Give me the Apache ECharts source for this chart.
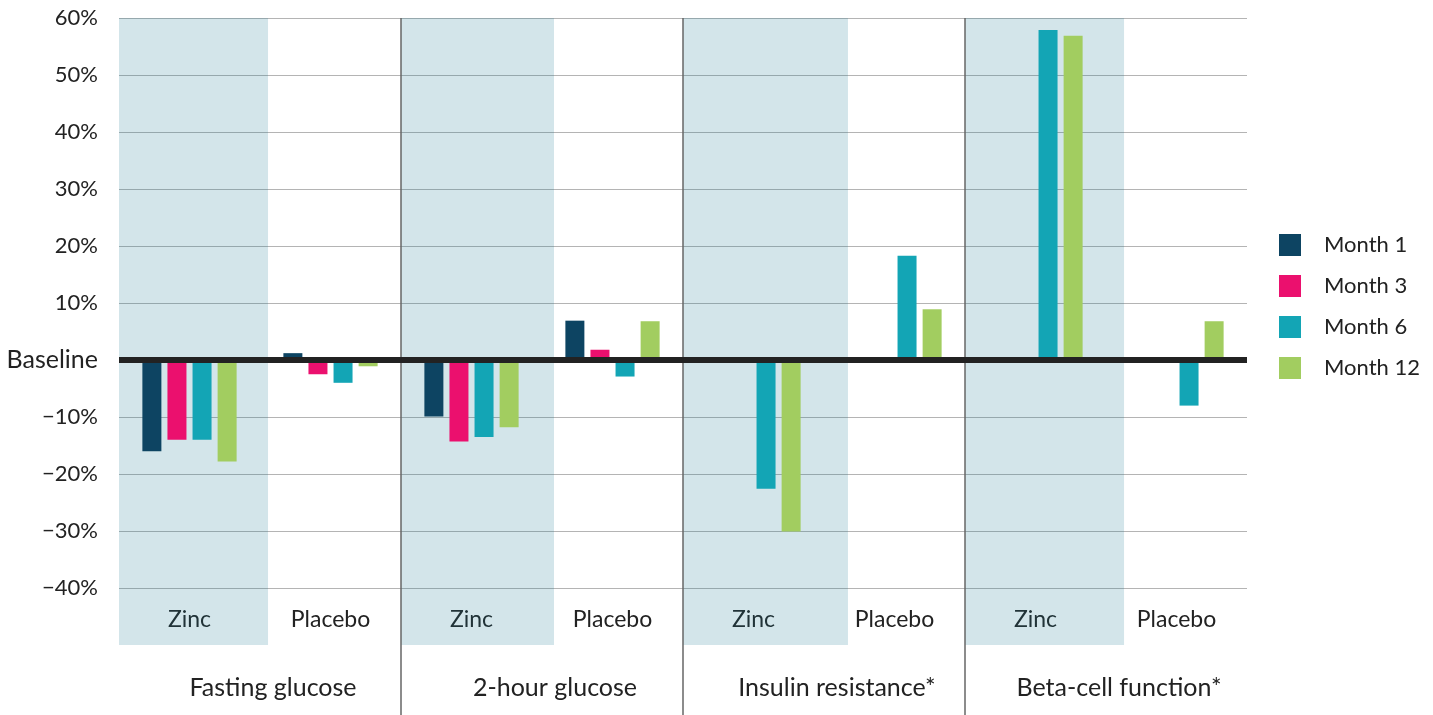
<!DOCTYPE html>
<html>
<head>
<meta charset="utf-8">
<title>Zinc vs placebo</title>
<script src="https://cdn.jsdelivr.net/npm/echarts@6/dist/echarts.min.js"></script>
<style>
  html, body { margin: 0; padding: 0; background: #fff; }
  #main { width: 1433px; height: 715px; }
</style>
</head>
<body>
<div id="main"></div>
<script>
// arms and measures
const arms = ['Zinc', 'Placebo', 'Zinc', 'Placebo', 'Zinc', 'Placebo', 'Zinc', 'Placebo']
const measures = ['Fasting glucose', '2-hour glucose', 'Insulin resistance*', 'Beta-cell function*']
const seriesNames = ['Month 1', 'Month 3', 'Month 6', 'Month 12']

// % change from baseline, one value per arm (null = not reported)
const month1 = [-16.0, 1.2, -9.9, 6.9, null, null, null, null]
const month3 = [-14.0, -2.5, -14.3, 1.8, null, null, null, null]
const month6 = [-14.0, -4.0, -13.5, -2.9, -22.6, 18.3, 57.9, -8.0]
const month12 = [-17.8, -1.1, -11.8, 6.8, -30.1, 8.9, 56.9, 6.8]

// shaded zinc columns, in arm units along a hidden value axis
const shadeSpans = [[0, 1.057], [2, 3.085], [4, 5.17], [6, 7.128]]

const colors = ['#0d4462', '#eb106e', '#13a5b5', '#a2cd60']
const font = 'Lato, "Noto Sans", sans-serif'

const chart = echarts.init(document.getElementById('main'))

const barSeries = [month1, month3, month6, month12].map((vals, i) => {
  const s = {
    name: seriesNames[i],
    type: 'bar',
    xAxisIndex: 0,
    yAxisIndex: 0,
    data: vals,
    barWidth: 19,
    barGap: '32%',
    itemStyle: { color: colors[i] },
    z: 2
  }
  if (i === 0) {
    s.markLine = {
      silent: true,
      symbol: 'none',
      z: 5,
      label: { show: false },
      lineStyle: { color: '#222', width: 6, type: 'solid' },
      data: [{ yAxis: 0 }]
    }
  }
  return s
})

const option = {
  animation: false,
  textStyle: { fontFamily: font },
  grid: [
    { left: 119, right: 186, top: 18, bottom: 70 },
    { left: 119, right: 186, top: 18, bottom: 0 }
  ],
  legend: {
    orient: 'vertical',
    left: 1279,
    top: 234,
    padding: 0,
    icon: 'rect',
    itemWidth: 22,
    itemHeight: 22,
    itemGap: 19,
    data: seriesNames,
    textStyle: { fontSize: 22, color: '#222', padding: [0, 0, 0, 18], lineHeight: 22 }
  },
  xAxis: [
    {
      type: 'category',
      gridIndex: 0,
      data: arms,
      position: 'bottom',
      axisLine: { show: false },
      axisTick: { show: false },
      splitLine: { show: false },
      axisLabel: { inside: true, margin: 14, interval: 0, fontSize: 23, color: '#222' }
    },
    {
      type: 'category',
      gridIndex: 0,
      data: measures,
      position: 'bottom',
      axisLine: { show: false },
      axisTick: { show: false },
      splitLine: { show: false },
      axisLabel: { margin: 30, interval: 0, fontSize: 25, color: '#222', padding: [0, 0, 0, 26] }
    },
    {
      type: 'value',
      gridIndex: 0,
      min: 0,
      max: 8,
      show: false
    },
    {
      type: 'value',
      gridIndex: 1,
      min: 0,
      max: 8,
      interval: 2,
      z: 3,
      axisLine: { show: false },
      axisTick: { show: false },
      axisLabel: { show: false },
      splitLine: {
        show: true,
        showMinLine: false,
        showMaxLine: false,
        lineStyle: { color: '#666', width: 1.5 }
      }
    }
  ],
  yAxis: [
    {
      type: 'value',
      gridIndex: 0,
      min: -50,
      max: 60,
      interval: 10,
      axisLine: { show: false },
      axisTick: { show: false },
      splitLine: {
        show: true,
        showMinLine: false,
        lineStyle: { color: '#b4b4b4', width: 1 }
      },
      axisLabel: {
        margin: 21,
        fontSize: 22,
        color: '#222',
        formatter: (v) => {
          if (v === -50) return ''
          if (v === 0) return '{b|Baseline}'
          return (v < 0 ? '\u2212' + Math.abs(v) : v) + '%'
        },
        rich: { b: { fontSize: 25, color: '#222', fontFamily: font } }
      }
    },
    {
      type: 'value',
      gridIndex: 1,
      show: false,
      min: 0,
      max: 1
    }
  ],
  series: [
    {
      type: 'custom',
      xAxisIndex: 2,
      yAxisIndex: 0,
      silent: true,
      z: 1,
      data: shadeSpans,
      encode: { x: [0, 1] },
      renderItem: (params, api) => {
        const p0 = api.coord([api.value(0), 60])
        const p1 = api.coord([api.value(1), -50])
        return {
          type: 'rect',
          shape: { x: p0[0], y: p0[1], width: p1[0] - p0[0], height: p1[1] - p0[1] },
          style: { fill: 'rgba(30,120,150,0.196)' }
        }
      }
    },
    ...barSeries
  ]
}

chart.setOption(option)
</script>
</body>
</html>
